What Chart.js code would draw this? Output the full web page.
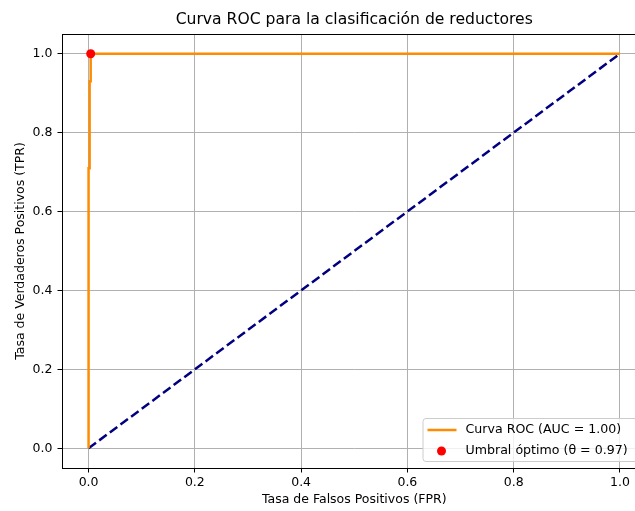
<!DOCTYPE html>
<html>
<head>
<meta charset="utf-8">
<script src="https://cdn.jsdelivr.net/npm/chart.js@4.4.1/dist/chart.umd.min.js"></script>
<style>
html, body { margin: 0; padding: 0; overflow: hidden; background: #fff; }
#rocChart { display: block; }
</style>
</head>
<body>
<canvas id="rocChart" width="660" height="511"></canvas>
<script>
// datos de la curva ROC
var fpr = [0, 0, 0.002, 0.002, 0.004, 0.004, 1];
var tpr = [0, 0.71, 0.71, 0.93, 0.93, 1, 1];
var azarX = [0, 1];
var azarY = [0, 1];
var optFpr = [0.004];
var optTpr = [1.0];
var ticksEje = [0, 0.2, 0.4, 0.6, 0.8, 1.0];
var titulo = 'Curva ROC para la clasificación de reductores';
var etiquetaRoc = "Curva ROC (AUC = 1.00)";
var etiquetaOpt = "Umbral óptimo (θ = 0.97)";

var fuente = "'DejaVu Sans', sans-serif";

function puntos(xs, ys) {
    var res = [];
    for (var i = 0; i < xs.length; i++) {
        res.push({x: xs[i], y: ys[i]});
    }
    return res;
}

function fijarTicks(scale) {
    scale.ticks = ticksEje.map(function (v) {
        return {value: v};
    });
}

// titulo centrado sobre el area, marco completo y leyenda interior
var marcoLeyenda = {
    id: 'marcoLeyenda',
    afterDatasetsDraw: function (chart) {
        var ctx = chart.ctx;
        var a = chart.chartArea;
        ctx.save();
        ctx.strokeStyle = '#000';
        ctx.lineWidth = 1;
        ctx.strokeRect(Math.round(a.left) + 0.5, Math.round(a.top) + 0.5,
                Math.round(a.right - a.left), Math.round(a.bottom - a.top));

        ctx.fillStyle = '#000';
        ctx.font = "15.6px " + fuente;
        ctx.textAlign = 'center';
        ctx.textBaseline = 'middle';
        ctx.fillText(titulo, (a.left + a.right) / 2, a.top - 14);

        var w = 217, h = 43;
        var x0 = a.right - 7 - w;
        var y0 = a.bottom - 7 - h;
        ctx.globalAlpha = 0.8;
        ctx.fillStyle = '#fff';
        ctx.beginPath();
        ctx.roundRect(x0 + 0.5, y0 + 0.5, w, h, 3);
        ctx.fill();
        ctx.globalAlpha = 1;
        ctx.strokeStyle = '#cccccc';
        ctx.stroke();

        ctx.font = "12.6px " + fuente;
        ctx.fillStyle = '#000';
        ctx.textBaseline = 'middle';
        ctx.textAlign = 'left';
        // linea naranja
        ctx.strokeStyle = '#ff8c00';
        ctx.lineWidth = 2.5;
        ctx.beginPath();
        ctx.moveTo(x0 + 5, y0 + 12);
        ctx.lineTo(x0 + 34, y0 + 12);
        ctx.stroke();
        ctx.fillText(etiquetaRoc, x0 + 43, y0 + 12);
        // punto rojo
        ctx.fillStyle = 'red';
        ctx.beginPath();
        ctx.arc(x0 + 19, y0 + 33, 4.5, 0, Math.PI * 2);
        ctx.fill();
        ctx.fillStyle = '#000';
        ctx.fillText(etiquetaOpt, x0 + 43, y0 + 33);
        ctx.restore();
    }
};

var canvas = document.getElementById('rocChart');
var miChart = new Chart(canvas, {
    type: 'line',
    data: {
        datasets: [{
                label: etiquetaOpt,
                data: puntos(optFpr, optTpr),
                showLine: false,
                pointRadius: 4.5,
                pointBackgroundColor: 'red',
                pointBorderWidth: 0,
                order: 0
            }, {
                label: etiquetaRoc,
                data: puntos(fpr, tpr),
                borderColor: '#ff8c00',
                borderWidth: 2.5,
                pointRadius: 0,
                tension: 0,
                fill: false,
                order: 1
            }, {
                data: puntos(azarX, azarY),
                borderColor: '#000080',
                borderWidth: 2.5,
                borderDash: [9.25, 4],
                pointRadius: 0,
                fill: false,
                order: 2
            }
        ]
    },
    options: {
        responsive: false,
        devicePixelRatio: 1,
        animation: false,
        layout: {
            padding: {top: 34, right: 13.5, left: 0, bottom: 0}
        },
        plugins: {
            legend: {display: false},
            tooltip: {enabled: false},
            title: {display: false}
        },
        scales: {
            x: {
                type: 'linear',
                min: -0.05,
                max: 1.05,
                afterBuildTicks: fijarTicks,
                afterFit: function (s) {
                    s.height = 43;
                },
                grid: {color: '#b0b0b0', lineWidth: 1, tickColor: '#000', tickLength: 4.5},
                border: {display: true, color: '#000', width: 1},
                ticks: {
                    color: '#000',
                    font: {family: fuente, size: 12.5},
                    padding: 3,
                    maxRotation: 0,
                    callback: function (v) {
                        return v.toFixed(1);
                    }
                },
                title: {
                    display: true,
                    text: 'Tasa de Falsos Positivos (FPR)',
                    color: '#000',
                    font: {family: fuente, size: 12.5},
                    padding: {top: 0, bottom: 4}
                }
            },
            y: {
                type: 'linear',
                min: -0.05,
                max: 1.05,
                afterBuildTicks: fijarTicks,
                afterFit: function (s) {
                    s.width = 62;
                },
                grid: {color: '#b0b0b0', lineWidth: 1, tickColor: '#000', tickLength: 4.5},
                border: {display: true, color: '#000', width: 1},
                ticks: {
                    color: '#000',
                    font: {family: fuente, size: 12.5},
                    padding: 5,
                    callback: function (v) {
                        return v.toFixed(1);
                    }
                },
                title: {
                    display: true,
                    text: 'Tasa de Verdaderos Positivos (TPR)',
                    color: '#000',
                    font: {family: fuente, size: 12.5},
                    padding: {top: 13, bottom: 13}
                }
            }
        }
    },
    plugins: [marcoLeyenda]
});
</script>
</body>
</html>
